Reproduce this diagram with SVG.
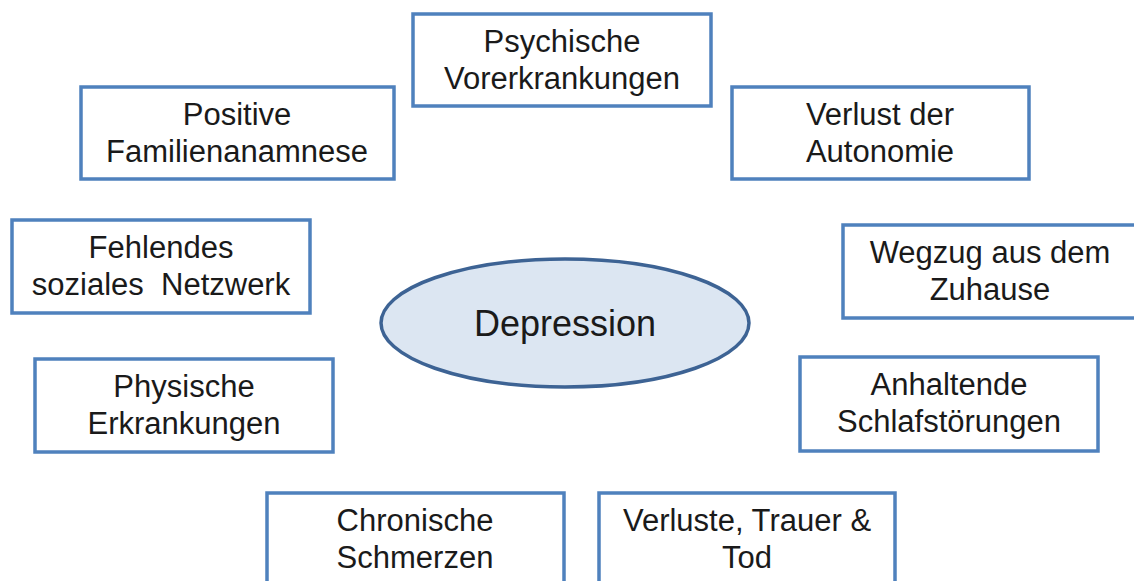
<svg xmlns="http://www.w3.org/2000/svg" width="1134" height="581" viewBox="0 0 1134 581">
<style>
.box{fill:#fff;stroke:#4f81bd;stroke-width:3.5}
.t{font-family:"Liberation Sans",Arial,sans-serif;font-size:31px;fill:#1a1a1a;text-anchor:middle}
.c{font-family:"Liberation Sans",Arial,sans-serif;font-size:36px;fill:#1a1a1a;text-anchor:middle}
</style>
<rect width="1134" height="581" fill="#fff"/>
<g id="connectors"></g>
<g id="depression">
<ellipse cx="565" cy="323" rx="184" ry="64" fill="#dce6f2" stroke="#3d6394" stroke-width="3.5"/>
<text class="c" x="565" y="336">Depression</text>
</g>
<g id="psychische"><rect class="box" x="413" y="14" width="298" height="92"/>
<text class="t" x="562" y="52">Psychische</text><text class="t" x="562" y="89">Vorerkrankungen</text></g>
<g id="positive"><rect class="box" x="81" y="87" width="313" height="92"/>
<text class="t" x="237" y="125">Positive</text><text class="t" x="237" y="162">Familienanamnese</text></g>
<g id="verlust"><rect class="box" x="732" y="87" width="297" height="92"/>
<text class="t" x="880" y="125">Verlust der</text><text class="t" x="880" y="162">Autonomie</text></g>
<g id="fehlendes"><rect class="box" x="12" y="220" width="298" height="93"/>
<text class="t" x="161" y="258">Fehlendes</text><text class="t" x="161" y="295">soziales&#160; Netzwerk</text></g>
<g id="wegzug"><rect class="box" x="843" y="225" width="298" height="93"/>
<text class="t" x="990" y="263">Wegzug aus dem</text><text class="t" x="990" y="300">Zuhause</text></g>
<g id="physische"><rect class="box" x="35" y="359" width="298" height="93"/>
<text class="t" x="184" y="397">Physische</text><text class="t" x="184" y="434">Erkrankungen</text></g>
<g id="anhaltende"><rect class="box" x="800" y="357" width="298" height="94"/>
<text class="t" x="949" y="395">Anhaltende</text><text class="t" x="949" y="432">Schlafstörungen</text></g>
<g id="chronische"><rect class="box" x="267" y="493" width="297" height="95"/>
<text class="t" x="415" y="531">Chronische</text><text class="t" x="415" y="568">Schmerzen</text></g>
<g id="verluste"><rect class="box" x="599" y="493" width="296" height="95"/>
<text class="t" x="747" y="531">Verluste, Trauer &amp;</text><text class="t" x="747" y="568">Tod</text></g>
</svg>
